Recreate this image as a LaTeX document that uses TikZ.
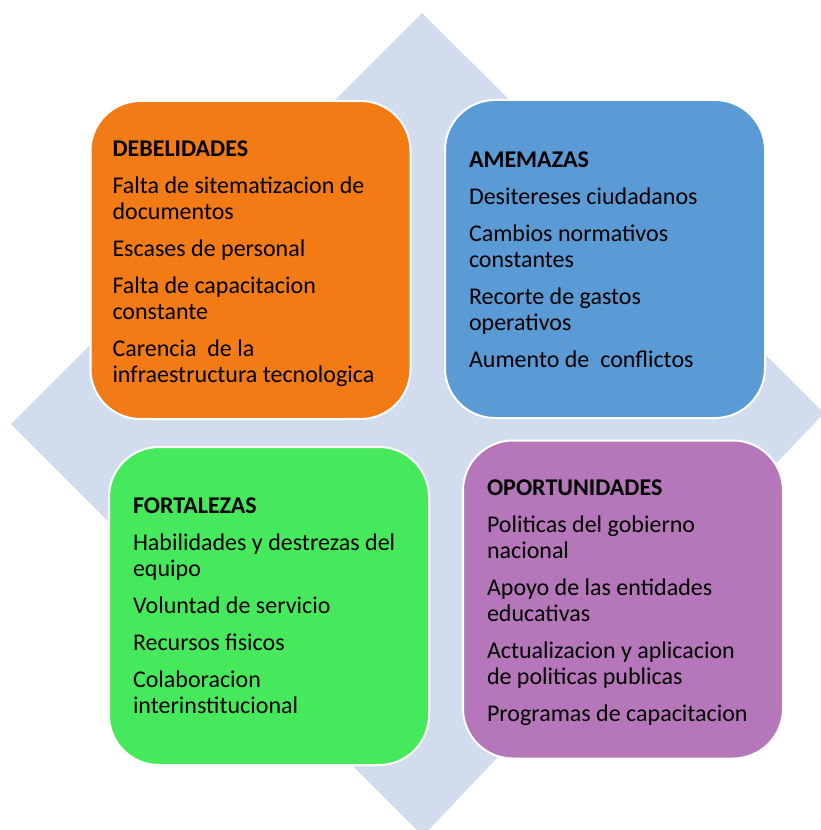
\documentclass[tikz,border=0pt]{standalone}
\usepackage{fontspec}
\setmainfont{Carlito}
\usetikzlibrary{positioning}

\definecolor{diamondcol}{RGB}{209,221,239}
\definecolor{debcol}{RGB}{242,123,22}
\definecolor{amecol}{RGB}{91,155,213}
\definecolor{forcol}{RGB}{71,233,92}
\definecolor{opocol}{RGB}{181,119,185}

\tikzset{
  swotbox/.style={draw=white, line width=1.5pt, rounded corners=37.5pt, outer sep=0pt,
    minimum width=240pt, minimum height=238.5pt, inner sep=0pt},
  swottext/.style={anchor=north west, align=left, inner sep=0pt, outer sep=0pt,
    font=\fontsize{18}{19.5}\selectfont},
}

\begin{document}
\begin{tikzpicture}[x=0.75pt,y=0.75pt,yscale=-1,xscale=1]
\useasboundingbox (0,0) rectangle (820,830);

%Shape: Diamond
\fill [diamondcol] (422,13) -- (824,413) -- (423,836) -- (11,424) -- cycle ;

%Shape: Rounded Rect
\node [swotbox, fill=debcol] (deb) at (250.5,260) {};
%Shape: Rounded Rect
\node [swotbox, fill=amecol] (ame) at (605,259) {};
%Shape: Rounded Rect
\node [swotbox, fill=forcol] (for) at (269,606) {};
%Shape: Rounded Rect
\node [swotbox, fill=opocol] (opo) at (623,599.5) {};

% Text Node (top of the title caps sits 15.5 above its baseline)
\node [swottext] (debtxt) at ([shift={(22,40)}]deb.north west) {\textbf{DEBELIDADES}\\[8.25pt]
Falta de sitematizacion de\\documentos\\[8.25pt]
Escases de personal\\[8.25pt]
Falta de capacitacion\\constante\\[8.25pt]
Carencia~ de la\\infraestructura tecnologica};
% Text Node
\node [swottext] (ametxt) at ([shift={(24,51.5)}]ame.north west) {\textbf{AMEMAZAS}\\[8.25pt]
Desitereses ciudadanos\\[8.25pt]
Cambios normativos\\constantes\\[8.25pt]
Recorte de gastos\\operativos\\[8.25pt]
Aumento de~ conflictos};
% Text Node
\node [swottext] (fortxt) at ([shift={(24,50.5)}]for.north west) {\textbf{FORTALEZAS}\\[8.25pt]
Habilidades y destrezas del\\equipo\\[8.25pt]
Voluntad de servicio\\[8.25pt]
Recursos fisicos\\[8.25pt]
Colaboracion\\interinstitucional};
% Text Node
\node [swottext] (opotxt) at ([shift={(24,39.5)}]opo.north west) {\textbf{OPORTUNIDADES}\\[8.25pt]
Politicas del gobierno\\nacional\\[8.25pt]
Apoyo de las entidades\\educativas\\[8.25pt]
Actualizacion y aplicacion\\de politicas publicas\\[8.25pt]
Programas de capacitacion};

\end{tikzpicture}
\end{document}
